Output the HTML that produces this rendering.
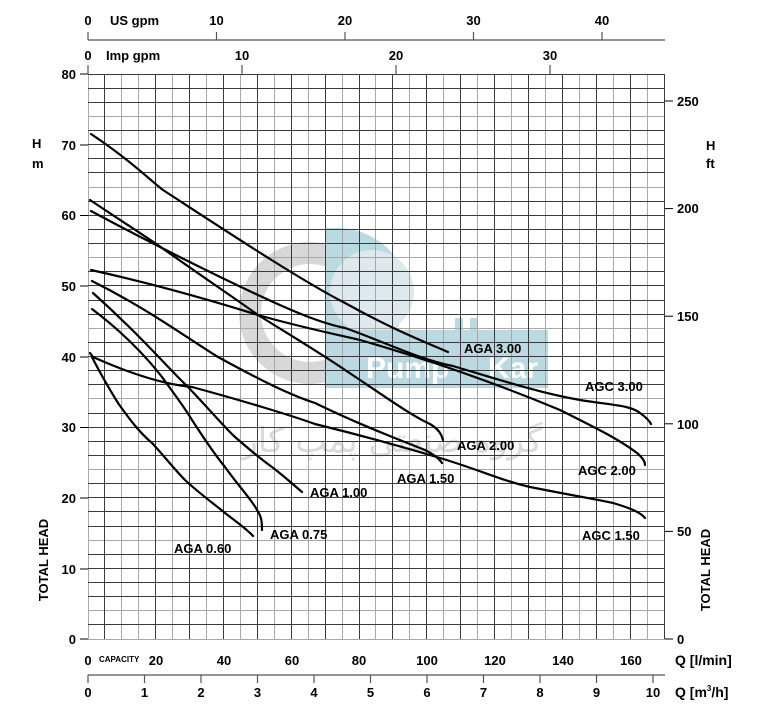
<!DOCTYPE html>
<html><head><meta charset="utf-8"><style>
body{margin:0;background:#fff;}
svg{display:block;font-family:"Liberation Sans","Noto Sans CJK SC",sans-serif;font-weight:bold;}
</style></head><body>
<svg width="779" height="714" viewBox="0 0 779 714" xmlns="http://www.w3.org/2000/svg">
<rect width="779" height="714" fill="#fff"/>
<!-- watermark -->
<g opacity="0.85">
<circle cx="310" cy="313" r="60" fill="none" stroke="#d2d2d2" stroke-width="22"/>
<path d="M325 228 L340 228 A70 66 0 0 1 407 294 A70 66 0 0 1 340 360 L325 360 Z" fill="#aed3dc"/>
<circle cx="372" cy="292" r="42" fill="#d9e6ea"/>
<rect x="325" y="330" width="223" height="58" fill="#aed3dc"/>
<rect x="455" y="318" width="8" height="14" fill="#aed3dc"/>
<rect x="470" y="318" width="8" height="14" fill="#aed3dc"/>
<text x="366" y="378" font-size="30" fill="#fff">Pump</text>
<text x="488" y="378" font-size="30" fill="#fff">Kar</text>
<text x="392" y="452" font-size="34" fill="#d4d4d4" font-weight="normal" text-anchor="middle" font-family="'DejaVu Sans',sans-serif">گروه صنعتی پمپ کار</text>
</g>
<!-- grid -->
<path fill="none" stroke="#a8a8a8" stroke-width="1" d="M88.5 74V639 M121.5 74V639 M138.5 74V639 M172.5 74V639 M206.5 74V639 M240.5 74V639 M274.5 74V639 M308.5 74V639 M342.5 74V639 M375.5 74V639 M409.5 74V639 M443.5 74V639 M477.5 74V639 M511.5 74V639 M545.5 74V639 M579.5 74V639 M613.5 74V639 M647.5 74V639
M88 639.5H665 M88 610.5H665 M88 540.5H665 M88 469.5H665 M88 398.5H665 M88 328.5H665 M88 257.5H665 M88 187.5H665 M88 116.5H665"/>
<path fill="none" stroke="#3a3a3a" stroke-width="1" d="M104.5 74V639 M155.5 74V639 M189.5 74V639 M223.5 74V639 M257.5 74V639 M291.5 74V639 M325.5 74V639 M359.5 74V639 M392.5 74V639 M426.5 74V639 M460.5 74V639 M494.5 74V639 M528.5 74V639 M562.5 74V639 M596.5 74V639 M630.5 74V639 M664.5 74V639
M88 624.5H665 M88 596.5H665 M88 582.5H665 M88 568.5H665 M88 554.5H665 M88 526.5H665 M88 511.5H665 M88 497.5H665 M88 483.5H665 M88 455.5H665 M88 441.5H665 M88 427.5H665 M88 413.5H665 M88 384.5H665 M88 370.5H665 M88 356.5H665 M88 342.5H665 M88 314.5H665 M88 300.5H665 M88 285.5H665 M88 271.5H665 M88 243.5H665 M88 229.5H665 M88 215.5H665 M88 201.5H665 M88 172.5H665 M88 158.5H665 M88 144.5H665 M88 130.5H665 M88 102.5H665 M88 88.5H665 M88 74.5H665"/>
<!-- curves -->
<g fill="none" stroke="#000" stroke-width="2.2" stroke-linecap="round">
<path d="M91 134 C130 160 150 180 163 190 C220 227 300 280 345 303 C390 328 420 340 448 352"/>
<path d="M90 200 C120 220 140 233 155 243 C200 275 230 295 258 315 C290 335 320 353 345 370 C380 393 410 415 430 424 C440 430 442 436 443 440"/>
<path d="M91 211 C130 232 200 268 258 295 C290 310 320 323 345 328 C380 340 420 360 453 366 C500 380 540 393 580 400 C610 405 630 405 640 413 C647 418 650 422 651 424"/>
<path d="M91 270 C150 283 210 300 258 315 C300 327 330 333 360 340 C430 360 500 385 560 410 C600 430 620 440 637 453 C643 458 645 462 645 465"/>
<path d="M92 281 C150 310 190 340 218 357 C260 380 290 395 315 403 C360 425 400 440 425 450 C435 455 440 460 442 463"/>
<path d="M90 353 L93 357 C140 378 170 385 192 387 C240 400 290 415 315 424 C380 440 420 452 440 458 C480 470 500 480 530 487 C570 495 600 500 613 503 C630 508 640 512 645 518"/>
<path d="M93 293 C140 335 170 370 188 387 C210 410 225 428 235 437 C250 450 262 460 272 467 C285 477 295 486 302 492"/>
<path d="M92 309 C120 330 145 355 162 377 C175 395 185 408 192 420 C205 440 215 455 225 467 C240 488 252 500 257 510 C261 516 262 520 262 530"/>
<path d="M92 357 C100 373 110 390 118 403 C130 420 140 433 152 443 C165 457 175 470 185 480 C200 494 213 503 225 513 C238 523 248 530 253 536"/>
</g>
<!-- curve labels -->
<g font-size="13" fill="#000" xml:space="preserve">
<text x="464" y="353">AGA  3.00</text>
<text x="585" y="391">AGC  3.00</text>
<text x="457" y="450">AGA  2.00</text>
<text x="578" y="475">AGC  2.00</text>
<text x="397" y="483">AGA  1.50</text>
<text x="582" y="540">AGC  1.50</text>
<text x="310" y="497">AGA  1.00</text>
<text x="270" y="539">AGA  0.75</text>
<text x="174" y="553">AGA  0.60</text>
</g>
<!-- axis ticks -->
<g stroke="#000" stroke-width="1">
<line x1="80" y1="74" x2="88" y2="74"/><line x1="80" y1="145" x2="88" y2="145"/><line x1="80" y1="215.5" x2="88" y2="215.5"/><line x1="80" y1="286" x2="88" y2="286"/><line x1="80" y1="357" x2="88" y2="357"/><line x1="80" y1="427.5" x2="88" y2="427.5"/><line x1="80" y1="498" x2="88" y2="498"/><line x1="80" y1="569" x2="88" y2="569"/><line x1="80" y1="639" x2="88" y2="639"/>
<line x1="665" y1="639" x2="673" y2="639"/><line x1="665" y1="531.4" x2="673" y2="531.4"/><line x1="665" y1="423.8" x2="673" y2="423.8"/><line x1="665" y1="316.2" x2="673" y2="316.2"/><line x1="665" y1="208.6" x2="673" y2="208.6"/><line x1="665" y1="101" x2="673" y2="101"/>
</g>
<g font-size="13" fill="#000" text-anchor="end">
<text x="76" y="79">80</text><text x="76" y="150">70</text><text x="76" y="220">60</text><text x="76" y="291">50</text><text x="76" y="362">40</text><text x="76" y="432">30</text><text x="76" y="503">20</text><text x="76" y="574">10</text><text x="76" y="644">0</text>
</g>
<g font-size="13" fill="#000">
<text x="677" y="106">250</text><text x="677" y="213">200</text><text x="677" y="321">150</text><text x="677" y="429">100</text><text x="677" y="536">50</text><text x="677" y="644">0</text>
<text x="32" y="148">H</text><text x="32" y="168">m</text>
<text x="706" y="150">H</text><text x="706" y="168">ft</text>
</g>
<text transform="translate(48,560) rotate(-90)" font-size="13" text-anchor="middle">TOTAL HEAD</text>
<text transform="translate(710,570) rotate(-90)" font-size="13" text-anchor="middle">TOTAL HEAD</text>
<!-- top axes -->
<g stroke="#555" stroke-width="1.2">
<line x1="88" y1="40" x2="665" y2="40"/>
<line x1="88" y1="32" x2="88" y2="40"/><line x1="216.5" y1="32" x2="216.5" y2="40"/><line x1="345" y1="32" x2="345" y2="40"/><line x1="473.5" y1="32" x2="473.5" y2="40"/><line x1="602" y1="32" x2="602" y2="40"/>
<line x1="88" y1="65" x2="88" y2="74"/><line x1="242" y1="65" x2="242" y2="74"/><line x1="396" y1="65" x2="396" y2="74"/><line x1="550" y1="65" x2="550" y2="74"/>
</g>
<g font-size="13" fill="#000" text-anchor="middle">
<text x="88" y="25">0</text><text x="216.5" y="25">10</text><text x="345" y="25">20</text><text x="473.5" y="25">30</text><text x="602" y="25">40</text>
<text x="88" y="60">0</text><text x="242" y="60">10</text><text x="396" y="60">20</text><text x="550" y="60">30</text>
</g>
<text x="110" y="25" font-size="13">US gpm</text>
<text x="106" y="60" font-size="13">Imp gpm</text>
<!-- bottom axes -->
<g font-size="13" fill="#000" text-anchor="middle">
<text x="88" y="665">0</text><text x="156" y="665">20</text><text x="224" y="665">40</text><text x="292" y="665">60</text><text x="359" y="665">80</text><text x="427" y="665">100</text><text x="495" y="665">120</text><text x="563" y="665">140</text><text x="631" y="665">160</text>
<text x="88" y="697">0</text><text x="144.5" y="697">1</text><text x="201" y="697">2</text><text x="257.5" y="697">3</text><text x="314" y="697">4</text><text x="370.5" y="697">5</text><text x="427" y="697">6</text><text x="483.5" y="697">7</text><text x="540" y="697">8</text><text x="596.5" y="697">9</text><text x="653" y="697">10</text>
</g>
<text x="99" y="662" font-size="8">CAPACITY</text>
<g stroke="#555" stroke-width="1.2">
<line x1="88" y1="675" x2="665" y2="675"/>
<line x1="88" y1="675" x2="88" y2="683"/><line x1="144.5" y1="675" x2="144.5" y2="683"/><line x1="201" y1="675" x2="201" y2="683"/><line x1="257.5" y1="675" x2="257.5" y2="683"/><line x1="314" y1="675" x2="314" y2="683"/><line x1="370.5" y1="675" x2="370.5" y2="683"/><line x1="427" y1="675" x2="427" y2="683"/><line x1="483.5" y1="675" x2="483.5" y2="683"/><line x1="540" y1="675" x2="540" y2="683"/><line x1="596.5" y1="675" x2="596.5" y2="683"/><line x1="653" y1="675" x2="653" y2="683"/>
</g>
<text x="675" y="665" font-size="14">Q  [l/min]</text>
<text x="675" y="697" font-size="14">Q  [m<tspan font-size="8" dy="-6">3</tspan><tspan dy="6">/h]</tspan></text>
</svg>
</body></html>
